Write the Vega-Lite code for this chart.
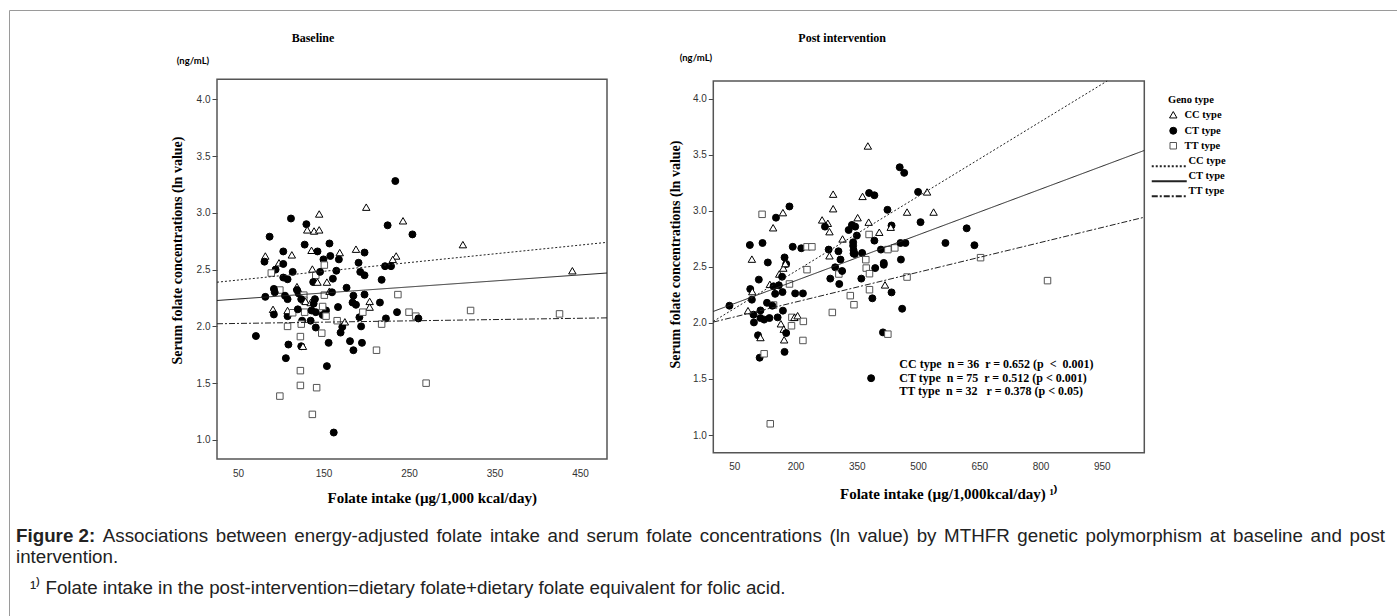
{
  "$schema": "https://vega.github.io/schema/vega-lite/v6.json",
  "width": 1397,
  "height": 616,
  "autosize": {"type": "none"},
  "padding": 0,
  "background": "white",
  "config": {
    "view": {"stroke": null},
    "axis": {"grid": false, "domain": false, "labelFont": "Liberation Sans", "labelFontSize": 10, "labelColor": "#333", "titleFont": "Liberation Serif", "titleFontWeight": "bold", "titleColor": "black", "tickColor": "#444"},
    "legend": {"padding": 0},
    "text": {"font": "Liberation Sans", "fontSize": 18.75, "align": "left", "baseline": "middle", "color": "#222222"}
  },
  "datasets": {
    "base": [
      {"x":234,"y":3.28,"g":"CT type"},{"x":200,"y":3.05,"g":"CC type"},{"x":145,"y":2.99,"g":"CC type"},{"x":112,"y":2.95,"g":"CT type"},
      {"x":243,"y":2.93,"g":"CC type"},{"x":130,"y":2.9,"g":"CT type"},{"x":131,"y":2.85,"g":"CC type"},{"x":139,"y":2.84,"g":"CC type"},
      {"x":145,"y":2.85,"g":"CC type"},{"x":225,"y":2.89,"g":"CT type"},{"x":254,"y":2.81,"g":"CT type"},{"x":87,"y":2.79,"g":"CT type"},
      {"x":128,"y":2.72,"g":"CT type"},{"x":157,"y":2.73,"g":"CT type"},{"x":103,"y":2.66,"g":"CT type"},{"x":113,"y":2.63,"g":"CC type"},
      {"x":136,"y":2.67,"g":"CC type"},{"x":143,"y":2.66,"g":"CT type"},{"x":158,"y":2.62,"g":"CT type"},{"x":169,"y":2.65,"g":"CC type"},
      {"x":150,"y":2.59,"g":"CT type"},{"x":168,"y":2.59,"g":"CT type"},{"x":188,"y":2.68,"g":"CC type"},{"x":198,"y":2.65,"g":"CT type"},
      {"x":191,"y":2.56,"g":"CT type"},{"x":82,"y":2.62,"g":"CC type"},{"x":81,"y":2.57,"g":"CT type"},{"x":98,"y":2.56,"g":"CC type"},
      {"x":103,"y":2.55,"g":"CT type"},{"x":235,"y":2.62,"g":"CC type"},{"x":231,"y":2.59,"g":"CC type"},{"x":222,"y":2.53,"g":"CT type"},
      {"x":229,"y":2.53,"g":"CT type"},{"x":94,"y":2.5,"g":"CT type"},{"x":89,"y":2.47,"g":"TT type"},{"x":103,"y":2.43,"g":"CT type"},
      {"x":108,"y":2.415,"g":"CT type"},{"x":114,"y":2.48,"g":"CT type"},{"x":137,"y":2.505,"g":"CC type"},{"x":141,"y":2.45,"g":"TT type"},
      {"x":151,"y":2.54,"g":"TT type"},{"x":146,"y":2.48,"g":"CT type"},{"x":138,"y":2.39,"g":"CT type"},{"x":143,"y":2.39,"g":"CC type"},
      {"x":154,"y":2.39,"g":"CC type"},{"x":161,"y":2.42,"g":"CT type"},{"x":165,"y":2.49,"g":"CT type"},{"x":193,"y":2.48,"g":"CT type"},
      {"x":198,"y":2.45,"g":"CT type"},{"x":218,"y":2.41,"g":"CT type"},{"x":82,"y":2.26,"g":"CT type"},{"x":99,"y":2.32,"g":"TT type"},
      {"x":92,"y":2.33,"g":"CT type"},{"x":93,"y":2.3,"g":"CT type"},{"x":105,"y":2.27,"g":"CT type"},{"x":108,"y":2.24,"g":"CT type"},
      {"x":119,"y":2.35,"g":"CC type"},{"x":119,"y":2.32,"g":"CT type"},{"x":121,"y":2.29,"g":"CT type"},{"x":127,"y":2.275,"g":"TT type"},
      {"x":127,"y":2.23,"g":"TT type"},{"x":124,"y":2.24,"g":"CT type"},{"x":129,"y":2.22,"g":"CC type"},{"x":135,"y":2.21,"g":"CC type"},
      {"x":138.5,"y":2.2,"g":"CT type"},{"x":140,"y":2.24,"g":"CT type"},{"x":151,"y":2.275,"g":"TT type"},{"x":157,"y":2.31,"g":"CC type"},
      {"x":160,"y":2.3,"g":"CT type"},{"x":177,"y":2.34,"g":"CT type"},{"x":185,"y":2.27,"g":"CT type"},{"x":198,"y":2.28,"g":"CT type"},
      {"x":184,"y":2.21,"g":"CT type"},{"x":188,"y":2.19,"g":"CT type"},{"x":237,"y":2.28,"g":"TT type"},{"x":204,"y":2.22,"g":"CC type"},
      {"x":216,"y":2.21,"g":"CT type"},{"x":204,"y":2.17,"g":"CC type"},{"x":91,"y":2.15,"g":"CC type"},{"x":92,"y":2.105,"g":"CT type"},
      {"x":108,"y":2.09,"g":"CT type"},{"x":108,"y":2.14,"g":"CC type"},{"x":114,"y":2.12,"g":"TT type"},{"x":128,"y":2.125,"g":"TT type"},
      {"x":120,"y":2.15,"g":"CT type"},{"x":136,"y":2.14,"g":"CT type"},{"x":141,"y":2.125,"g":"CT type"},{"x":153,"y":2.14,"g":"CT type"},
      {"x":149,"y":2.175,"g":"TT type"},{"x":167,"y":2.17,"g":"CT type"},{"x":149,"y":2.1,"g":"CT type"},{"x":153,"y":2.09,"g":"TT type"},
      {"x":135,"y":2.05,"g":"CT type"},{"x":125,"y":2.05,"g":"CT type"},{"x":124,"y":2.02,"g":"TT type"},{"x":108,"y":2.0,"g":"TT type"},
      {"x":141,"y":1.99,"g":"CT type"},{"x":172,"y":1.995,"g":"CT type"},{"x":166,"y":2.05,"g":"TT type"},{"x":175,"y":2.04,"g":"CC type"},
      {"x":192,"y":2.08,"g":"CT type"},{"x":194,"y":2.0,"g":"CT type"},{"x":170,"y":1.945,"g":"CT type"},{"x":196,"y":2.125,"g":"TT type"},
      {"x":223,"y":2.07,"g":"CT type"},{"x":218,"y":2.02,"g":"TT type"},{"x":236,"y":2.125,"g":"CT type"},{"x":250,"y":2.125,"g":"TT type"},
      {"x":258,"y":2.09,"g":"TT type"},{"x":261,"y":2.07,"g":"CT type"},{"x":71,"y":1.915,"g":"CT type"},{"x":123,"y":1.91,"g":"TT type"},
      {"x":109,"y":1.84,"g":"CT type"},{"x":124,"y":1.825,"g":"CT type"},{"x":126,"y":1.825,"g":"CC type"},{"x":156,"y":1.855,"g":"CT type"},
      {"x":181,"y":1.87,"g":"CT type"},{"x":185,"y":1.79,"g":"CT type"},{"x":195,"y":1.855,"g":"CT type"},{"x":148,"y":1.94,"g":"TT type"},
      {"x":212,"y":1.79,"g":"TT type"},{"x":106,"y":1.72,"g":"CT type"},{"x":154,"y":1.65,"g":"CT type"},{"x":123,"y":1.61,"g":"TT type"},
      {"x":99,"y":1.386,"g":"TT type"},{"x":123,"y":1.48,"g":"TT type"},{"x":142,"y":1.46,"g":"TT type"},{"x":137,"y":1.225,"g":"TT type"},
      {"x":162,"y":1.065,"g":"CT type"},{"x":270,"y":1.5,"g":"TT type"},{"x":313,"y":2.72,"g":"CC type"},{"x":322,"y":2.14,"g":"TT type"},
      {"x":426,"y":2.11,"g":"TT type"},{"x":441,"y":2.49,"g":"CC type"}
    ],
    "post": [
      {"x":377,"y":3.58,"g":"CC type"},{"x":455,"y":3.39,"g":"CT type"},{"x":466,"y":3.34,"g":"CT type"},{"x":380,"y":3.16,"g":"CT type"},
      {"x":393,"y":3.14,"g":"CT type"},{"x":292,"y":3.15,"g":"CC type"},{"x":364,"y":3.13,"g":"CC type"},{"x":500,"y":3.17,"g":"CT type"},
      {"x":522,"y":3.17,"g":"CC type"},{"x":118,"y":2.97,"g":"TT type"},{"x":152,"y":2.94,"g":"CT type"},{"x":169,"y":2.985,"g":"CC type"},
      {"x":185,"y":3.04,"g":"CT type"},{"x":145,"y":2.85,"g":"CC type"},{"x":292,"y":3.02,"g":"CC type"},{"x":265,"y":2.92,"g":"CC type"},
      {"x":279,"y":2.89,"g":"CC type"},{"x":272,"y":2.86,"g":"CT type"},{"x":283,"y":2.815,"g":"CC type"},{"x":352,"y":2.94,"g":"CC type"},
      {"x":379,"y":2.9,"g":"CC type"},{"x":425,"y":3.01,"g":"CT type"},{"x":506,"y":2.9,"g":"CT type"},{"x":473,"y":2.99,"g":"CC type"},
      {"x":538,"y":2.99,"g":"CC type"},{"x":330,"y":2.83,"g":"CT type"},{"x":338,"y":2.875,"g":"CT type"},{"x":346,"y":2.86,"g":"CT type"},
      {"x":350,"y":2.78,"g":"CT type"},{"x":380,"y":2.79,"g":"TT type"},{"x":405,"y":2.81,"g":"CC type"},{"x":435,"y":2.87,"g":"CT type"},
      {"x":433,"y":2.855,"g":"CC type"},{"x":315,"y":2.75,"g":"CC type"},{"x":341,"y":2.72,"g":"CT type"},{"x":393,"y":2.735,"g":"CT type"},
      {"x":341,"y":2.69,"g":"CT type"},{"x":342,"y":2.65,"g":"CT type"},{"x":363,"y":2.625,"g":"CT type"},{"x":342,"y":2.62,"g":"CT type"},
      {"x":281,"y":2.655,"g":"CT type"},{"x":305,"y":2.64,"g":"CT type"},{"x":214,"y":2.667,"g":"CT type"},{"x":228,"y":2.68,"g":"TT type"},
      {"x":240,"y":2.68,"g":"TT type"},{"x":193,"y":2.68,"g":"CT type"},{"x":88,"y":2.696,"g":"CT type"},{"x":119,"y":2.714,"g":"CT type"},
      {"x":409,"y":2.655,"g":"CT type"},{"x":426,"y":2.655,"g":"TT type"},{"x":443,"y":2.67,"g":"TT type"},{"x":457,"y":2.714,"g":"CT type"},
      {"x":469,"y":2.714,"g":"CT type"},{"x":567,"y":2.714,"g":"CT type"},{"x":93,"y":2.57,"g":"CC type"},{"x":132,"y":2.54,"g":"CT type"},
      {"x":173,"y":2.585,"g":"CT type"},{"x":177,"y":2.527,"g":"CT type"},{"x":283,"y":2.6,"g":"CC type"},{"x":372,"y":2.565,"g":"TT type"},
      {"x":416,"y":2.536,"g":"CT type"},{"x":89,"y":2.303,"g":"CT type"},{"x":110,"y":2.387,"g":"CT type"},{"x":93,"y":2.208,"g":"CT type"},
      {"x":97,"y":2.074,"g":"CT type"},{"x":98,"y":2.005,"g":"CT type"},{"x":114,"y":2.112,"g":"CT type"},{"x":114,"y":2.044,"g":"CT type"},
      {"x":108,"y":1.89,"g":"CT type"},{"x":114,"y":1.87,"g":"CC type"},{"x":112,"y":1.69,"g":"CT type"},{"x":123,"y":1.725,"g":"TT type"},
      {"x":123,"y":2.03,"g":"CT type"},{"x":130,"y":2.18,"g":"CT type"},{"x":94,"y":2.28,"g":"CC type"},{"x":83.5,"y":2.11,"g":"CC type"},
      {"x":136,"y":2.044,"g":"CT type"},{"x":138,"y":1.1,"g":"TT type"},{"x":137,"y":2.345,"g":"CC type"},{"x":146,"y":2.327,"g":"CT type"},
      {"x":150,"y":2.26,"g":"CT type"},{"x":146,"y":2.16,"g":"TT type"},{"x":143,"y":2.154,"g":"CT type"},{"x":160,"y":2.437,"g":"CC type"},
      {"x":167,"y":2.413,"g":"CT type"},{"x":159,"y":2.336,"g":"CT type"},{"x":168,"y":2.276,"g":"CT type"},{"x":156,"y":2.05,"g":"CT type"},
      {"x":164,"y":1.993,"g":"CC type"},{"x":171,"y":1.945,"g":"CC type"},{"x":172,"y":1.85,"g":"CC type"},{"x":169,"y":2.11,"g":"CT type"},
      {"x":173,"y":1.742,"g":"CT type"},{"x":177,"y":1.91,"g":"CT type"},{"x":170,"y":2.49,"g":"CC type"},{"x":175,"y":2.53,"g":"CC type"},
      {"x":185,"y":2.348,"g":"TT type"},{"x":191,"y":2.05,"g":"TT type"},{"x":190,"y":1.975,"g":"TT type"},{"x":197,"y":2.05,"g":"CC type"},
      {"x":205,"y":2.065,"g":"CC type"},{"x":199,"y":2.264,"g":"CT type"},{"x":218,"y":2.264,"g":"CT type"},{"x":219,"y":2.014,"g":"TT type"},
      {"x":218,"y":1.844,"g":"TT type"},{"x":228,"y":2.476,"g":"TT type"},{"x":285,"y":2.396,"g":"CT type"},{"x":297,"y":2.497,"g":"CT type"},
      {"x":307,"y":2.348,"g":"CT type"},{"x":306,"y":2.437,"g":"TT type"},{"x":314,"y":2.464,"g":"CT type"},{"x":310,"y":2.566,"g":"CT type"},
      {"x":290,"y":2.094,"g":"TT type"},{"x":334,"y":2.244,"g":"TT type"},{"x":343,"y":2.163,"g":"TT type"},{"x":345,"y":2.616,"g":"CT type"},
      {"x":361,"y":2.396,"g":"CT type"},{"x":373,"y":2.49,"g":"TT type"},{"x":381,"y":2.297,"g":"TT type"},{"x":381,"y":2.44,"g":"TT type"},
      {"x":395,"y":2.49,"g":"CT type"},{"x":388,"y":2.22,"g":"CT type"},{"x":416,"y":2.52,"g":"CT type"},{"x":414,"y":1.916,"g":"CT type"},
      {"x":426,"y":1.9,"g":"TT type"},{"x":419,"y":2.34,"g":"CC type"},{"x":435,"y":2.273,"g":"CT type"},{"x":473,"y":2.41,"g":"TT type"},
      {"x":458,"y":2.566,"g":"CT type"},{"x":461,"y":2.127,"g":"CT type"},{"x":385,"y":1.507,"g":"CT type"},{"x":38,"y":2.154,"g":"CT type"},
      {"x":619,"y":2.845,"g":"CT type"},{"x":638,"y":2.694,"g":"CT type"},{"x":653,"y":2.583,"g":"TT type"},{"x":817,"y":2.378,"g":"TT type"}
    ],
    "baseFit": [
      {"fit":"CC","x":25.5,"y":2.389},{"fit":"CC","x":481.5,"y":2.74},
      {"fit":"CT","x":25.5,"y":2.228},{"fit":"CT","x":481.5,"y":2.47},
      {"fit":"TT","x":25.5,"y":2.023},{"fit":"TT","x":481.5,"y":2.075}
    ],
    "postFit": [
      {"fit":"CC","x":-1.5,"y":2.014},{"fit":"CC","x":963,"y":4.16},
      {"fit":"CT","x":-1.5,"y":2.103},{"fit":"CT","x":1054,"y":3.54},
      {"fit":"TT","x":-1.5,"y":2.008},{"fit":"TT","x":1054,"y":2.944}
    ]
  },
  "layer": [
    {
      "data": {"values": [{}]},
      "mark": {"type": "rect", "filled": false, "stroke": "#9a9a9a", "strokeWidth": 1},
      "encoding": {
        "x": {"datum": 0, "type": "quantitative", "scale": {"domain": [0, 1], "range": [9.5, 3000], "nice": false, "zero": false}, "axis": null},
        "x2": {"datum": 1},
        "y": {"datum": 0, "type": "quantitative", "scale": {"domain": [0, 1], "range": [10.5, 3000], "nice": false, "zero": false}, "axis": null},
        "y2": {"datum": 1}
      }
    },
    {
      "data": {"values": [{}]},
      "mark": {"type": "rect", "filled": false, "stroke": "#555555", "strokeWidth": 1.5},
      "encoding": {
        "x": {"datum": 25.5, "type": "quantitative", "scale": {"domain": [25.5, 481.5], "range": [217, 607], "nice": false, "zero": false}, "axis": null},
        "x2": {"datum": 481.5},
        "y": {"datum": 0.832, "type": "quantitative", "scale": {"domain": [0.832, 4.176], "range": [459, 79.3], "nice": false, "zero": false}, "axis": null},
        "y2": {"datum": 4.176}
      }
    },
    {
      "data": {"values": [{}]},
      "mark": {"type": "rect", "filled": false, "stroke": "#555555", "strokeWidth": 1.5},
      "encoding": {
        "x": {"datum": -1.5, "type": "quantitative", "scale": {"domain": [-1.5, 1054], "range": [713.3, 1144.3], "nice": false, "zero": false}, "axis": null},
        "x2": {"datum": 1054},
        "y": {"datum": 0.842, "type": "quantitative", "scale": {"domain": [0.842, 4.16], "range": [452.7, 81], "nice": false, "zero": false}, "axis": null},
        "y2": {"datum": 4.16}
      }
    },
    {
      "data": {"name": "base"},
      "mark": {"type": "point", "filled": true, "opacity": 1, "strokeWidth": 1},
      "encoding": {
        "x": {"field": "x", "type": "quantitative", "scale": {"domain": [25.5, 481.5], "range": [217, 607], "nice": false, "zero": false},
          "axis": {"orient": "bottom", "offset": -157, "values": [50, 150, 250, 350, 450], "ticks": false, "labelPadding": 9, "title": "Folate intake (µg/1,000 kcal/day)", "titleFontSize": 15, "titleX": 431.7, "titleY": 38, "titleBaseline": "middle", "titleAlign": "center", "titleAngle": 0}},
        "y": {"field": "y", "type": "quantitative", "scale": {"domain": [0.832, 4.176], "range": [459, 79.3], "nice": false, "zero": false},
          "axis": {"orient": "left", "offset": -217, "values": [1, 1.5, 2, 2.5, 3, 3.5, 4], "format": ".1f", "tickSize": 5, "labelPadding": 2, "title": "Serum folate concentrations (ln value)", "titleFontSize": 14, "titleX": -39.5, "titleY": 250, "titleBaseline": "middle", "titleAlign": "center", "titleAngle": -90}},
        "shape": {"field": "g", "type": "nominal", "scale": {"domain": ["CC type", "CT type", "TT type"], "range": ["triangle-up", "circle", "square"]},
          "legend": {"orient": "none", "legendX": 1168, "legendY": 95, "title": "\u00a0\u00a0\u00a0Geno type", "titleFont": "Liberation Serif", "titleFontWeight": "bold", "titleFontSize": 10.5, "titleColor": "black", "titlePadding": 4, "labelFont": "Liberation Serif", "labelFontWeight": "bold", "labelFontSize": 10.5, "labelColor": "black", "labelOffset": 6, "rowPadding": 4, "symbolStrokeWidth": 1}},
        "fill": {"field": "g", "type": "nominal", "scale": {"domain": ["CC type", "CT type", "TT type"], "range": ["white", "black", "white"]}, "legend": {"orient": "none", "legendX": 1168, "legendY": 95, "title": "\u00a0\u00a0\u00a0Geno type"}},
        "stroke": {"field": "g", "type": "nominal", "scale": {"domain": ["CC type", "CT type", "TT type"], "range": ["black", "black", "#555555"]}, "legend": {"orient": "none", "legendX": 1168, "legendY": 95, "title": "\u00a0\u00a0\u00a0Geno type"}},
        "size": {"field": "g", "type": "nominal", "scale": {"domain": ["CC type", "CT type", "TT type"], "range": [55, 42, 36]}, "legend": {"orient": "none", "legendX": 1168, "legendY": 95, "title": "\u00a0\u00a0\u00a0Geno type"}}
      }
    },
    {
      "data": {"name": "post"},
      "mark": {"type": "point", "filled": true, "opacity": 1, "strokeWidth": 1},
      "encoding": {
        "x": {"field": "x", "type": "quantitative", "scale": {"domain": [-1.5, 1054], "range": [713.3, 1144.3], "nice": false, "zero": false},
          "axis": {"orient": "bottom", "offset": -163.3, "values": [50, 200, 350, 500, 650, 800, 950], "ticks": false, "labelPadding": 9, "title": "Folate intake (µg/1,000kcal/day) ¹⁾", "titleFontSize": 15, "titleX": 948, "titleY": 40.6, "titleBaseline": "middle", "titleAlign": "center", "titleAngle": 0}},
        "y": {"field": "y", "type": "quantitative", "scale": {"domain": [0.842, 4.16], "range": [452.7, 81], "nice": false, "zero": false},
          "axis": {"orient": "left", "offset": -713.3, "values": [1, 1.5, 2, 2.5, 3, 3.5, 4], "format": ".1f", "tickSize": 5, "labelPadding": 2, "title": "Serum folate concentrations (ln value)", "titleFontSize": 14, "titleX": -38.3, "titleY": 254, "titleBaseline": "middle", "titleAlign": "center", "titleAngle": -90}},
        "shape": {"field": "g", "type": "nominal", "scale": {"domain": ["CC type", "CT type", "TT type"], "range": ["triangle-up", "circle", "square"]}, "legend": {"orient": "none", "legendX": 1168, "legendY": 95, "title": "\u00a0\u00a0\u00a0Geno type"}},
        "fill": {"field": "g", "type": "nominal", "scale": {"domain": ["CC type", "CT type", "TT type"], "range": ["white", "black", "white"]}, "legend": {"orient": "none", "legendX": 1168, "legendY": 95, "title": "\u00a0\u00a0\u00a0Geno type"}},
        "stroke": {"field": "g", "type": "nominal", "scale": {"domain": ["CC type", "CT type", "TT type"], "range": ["black", "black", "#555555"]}, "legend": {"orient": "none", "legendX": 1168, "legendY": 95, "title": "\u00a0\u00a0\u00a0Geno type"}},
        "size": {"field": "g", "type": "nominal", "scale": {"domain": ["CC type", "CT type", "TT type"], "range": [55, 42, 36]}, "legend": {"orient": "none", "legendX": 1168, "legendY": 95, "title": "\u00a0\u00a0\u00a0Geno type"}}
      }
    },
    {
      "data": {"name": "baseFit"},
      "mark": {"type": "line", "strokeWidth": 1},
      "encoding": {
        "x": {"field": "x", "type": "quantitative", "scale": {"domain": [25.5, 481.5], "range": [217, 607], "nice": false, "zero": false}, "axis": null},
        "y": {"field": "y", "type": "quantitative", "scale": {"domain": [0.832, 4.176], "range": [459, 79.3], "nice": false, "zero": false}, "axis": null},
        "strokeDash": {"field": "fit", "type": "nominal", "scale": {"domain": ["CC", "CT", "TT"], "range": [[2, 2], [1, 0], [6, 2, 2, 2]]}, "legend": null},
        "color": {"field": "fit", "type": "nominal", "scale": {"domain": ["CC", "CT", "TT"], "range": ["#222222", "#222222", "#222222"]},
          "legend": {"orient": "none", "legendX": 1178, "legendY": 161, "title": null, "labelExpr": "datum.label + ' type'", "symbolType": "M-9,0H1", "symbolSize": 49, "symbolStrokeWidth": 2, "symbolFillColor": "transparent", "labelFont": "Liberation Serif", "labelFontWeight": "bold", "labelFontSize": 10.5, "labelColor": "black", "labelOffset": 0, "rowPadding": 0,
            "encode": {"labels": {"update": {"dy": {"value": -5}}}}}}
      }
    },
    {
      "data": {"name": "postFit"},
      "mark": {"type": "line", "strokeWidth": 1},
      "encoding": {
        "x": {"field": "x", "type": "quantitative", "scale": {"domain": [-1.5, 1054], "range": [713.3, 1144.3], "nice": false, "zero": false}, "axis": null},
        "y": {"field": "y", "type": "quantitative", "scale": {"domain": [0.842, 4.16], "range": [452.7, 81], "nice": false, "zero": false}, "axis": null},
        "strokeDash": {"field": "fit", "type": "nominal", "scale": {"domain": ["CC", "CT", "TT"], "range": [[2, 2], [1, 0], [6, 2, 2, 2]]}, "legend": null},
        "color": {"field": "fit", "type": "nominal", "scale": {"domain": ["CC", "CT", "TT"], "range": ["#222222", "#222222", "#222222"]},
          "legend": {"orient": "none", "legendX": 1178, "legendY": 161, "title": null, "labelExpr": "datum.label + ' type'"}}
      }
    },
    {
      "data": {"values": [{}]},
      "mark": {"type": "text", "text": "Baseline", "font": "Liberation Serif", "fontWeight": "bold", "fontSize": 12, "align": "center", "color": "black"},
      "encoding": {
        "x": {"datum": 137.7, "type": "quantitative", "scale": {"domain": [25.5, 481.5], "range": [217, 607], "nice": false, "zero": false}, "axis": null},
        "y": {"datum": 4.54, "type": "quantitative", "scale": {"domain": [0.832, 4.176], "range": [459, 79.3], "nice": false, "zero": false}, "axis": null}
      }
    },
    {
      "data": {"values": [{}]},
      "mark": {"type": "text", "text": "(ng/mL)", "font": "Lato", "fontWeight": "bold", "fontSize": 9.5, "align": "center", "color": "black"},
      "encoding": {
        "x": {"datum": -2.6, "type": "quantitative", "scale": {"domain": [25.5, 481.5], "range": [217, 607], "nice": false, "zero": false}, "axis": null},
        "y": {"datum": 4.337, "type": "quantitative", "scale": {"domain": [0.832, 4.176], "range": [459, 79.3], "nice": false, "zero": false}, "axis": null}
      }
    },
    {
      "data": {"values": [{}]},
      "mark": {"type": "text", "text": "Post intervention", "font": "Liberation Serif", "fontWeight": "bold", "fontSize": 12, "align": "center", "color": "black"},
      "encoding": {
        "x": {"datum": 314, "type": "quantitative", "scale": {"domain": [-1.5, 1054], "range": [713.3, 1144.3], "nice": false, "zero": false}, "axis": null},
        "y": {"datum": 4.5437, "type": "quantitative", "scale": {"domain": [0.842, 4.16], "range": [452.7, 81], "nice": false, "zero": false}, "axis": null}
      }
    },
    {
      "data": {"values": [{}]},
      "mark": {"type": "text", "text": "(ng/mL)", "font": "Lato", "fontWeight": "bold", "fontSize": 9.5, "align": "center", "color": "black"},
      "encoding": {
        "x": {"datum": -44, "type": "quantitative", "scale": {"domain": [-1.5, 1054], "range": [713.3, 1144.3], "nice": false, "zero": false}, "axis": null},
        "y": {"datum": 4.365, "type": "quantitative", "scale": {"domain": [0.842, 4.16], "range": [452.7, 81], "nice": false, "zero": false}, "axis": null}
      }
    },
    {
      "data": {"values": [{}]},
      "mark": {"type": "text", "text": ["CC type\u00a0 n = 36\u00a0 r = 0.652 (p\u00a0 <\u00a0 0.001)", "CT type\u00a0 n = 75\u00a0 r = 0.512 (p < 0.001)", "TT type\u00a0 n = 32\u00a0\u00a0 r = 0.378 (p < 0.05)"], "font": "Liberation Serif", "fontWeight": "bold", "fontSize": 12, "lineHeight": 13.7, "baseline": "top", "color": "black"},
      "encoding": {
        "x": {"datum": 454, "type": "quantitative", "scale": {"domain": [-1.5, 1054], "range": [713.3, 1144.3], "nice": false, "zero": false}, "axis": null},
        "y": {"datum": 1.678, "type": "quantitative", "scale": {"domain": [0.842, 4.16], "range": [452.7, 81], "nice": false, "zero": false}, "axis": null}
      }
    },
    {"data": {"values": [{}]}, "mark": {"type": "text", "text": "Figure 2:", "fontWeight": "bold"},
      "encoding": {"x": {"datum": -209.5, "type": "quantitative", "scale": {"domain": [25.5, 481.5], "range": [217, 607], "nice": false, "zero": false}, "axis": null},
        "y": {"datum": 0.1539, "type": "quantitative", "scale": {"domain": [0.832, 4.176], "range": [459, 79.3], "nice": false, "zero": false}, "axis": null}}},
    {"data": {"values": [{}]}, "mark": {"type": "text", "text": "Associations"},
      "encoding": {"x": {"datum": -107.98, "type": "quantitative", "scale": {"domain": [25.5, 481.5], "range": [217, 607], "nice": false, "zero": false}, "axis": null},
        "y": {"datum": 0.1539, "type": "quantitative", "scale": {"domain": [0.832, 4.176], "range": [459, 79.3], "nice": false, "zero": false}, "axis": null}}},
    {"data": {"values": [{}]}, "mark": {"type": "text", "text": "between"},
      "encoding": {"x": {"datum": 24.03, "type": "quantitative", "scale": {"domain": [25.5, 481.5], "range": [217, 607], "nice": false, "zero": false}, "axis": null},
        "y": {"datum": 0.1539, "type": "quantitative", "scale": {"domain": [0.832, 4.176], "range": [459, 79.3], "nice": false, "zero": false}, "axis": null}}},
    {"data": {"values": [{}]}, "mark": {"type": "text", "text": "energy-adjusted"},
      "encoding": {"x": {"datum": 115.87, "type": "quantitative", "scale": {"domain": [25.5, 481.5], "range": [217, 607], "nice": false, "zero": false}, "axis": null},
        "y": {"datum": 0.1539, "type": "quantitative", "scale": {"domain": [0.832, 4.176], "range": [459, 79.3], "nice": false, "zero": false}, "axis": null}}},
    {"data": {"values": [{}]}, "mark": {"type": "text", "text": "folate"},
      "encoding": {"x": {"datum": 282.02, "type": "quantitative", "scale": {"domain": [25.5, 481.5], "range": [217, 607], "nice": false, "zero": false}, "axis": null},
        "y": {"datum": 0.1539, "type": "quantitative", "scale": {"domain": [0.832, 4.176], "range": [459, 79.3], "nice": false, "zero": false}, "axis": null}}},
    {"data": {"values": [{}]}, "mark": {"type": "text", "text": "intake"},
      "encoding": {"x": {"datum": 344.6, "type": "quantitative", "scale": {"domain": [25.5, 481.5], "range": [217, 607], "nice": false, "zero": false}, "axis": null},
        "y": {"datum": 0.1539, "type": "quantitative", "scale": {"domain": [0.832, 4.176], "range": [459, 79.3], "nice": false, "zero": false}, "axis": null}}},
    {"data": {"values": [{}]}, "mark": {"type": "text", "text": "and"},
      "encoding": {"x": {"datum": 412.06, "type": "quantitative", "scale": {"domain": [25.5, 481.5], "range": [217, 607], "nice": false, "zero": false}, "axis": null},
        "y": {"datum": 0.1539, "type": "quantitative", "scale": {"domain": [0.832, 4.176], "range": [459, 79.3], "nice": false, "zero": false}, "axis": null}}},
    {"data": {"values": [{}]}, "mark": {"type": "text", "text": "serum"},
      "encoding": {"x": {"datum": 457.59, "type": "quantitative", "scale": {"domain": [25.5, 481.5], "range": [217, 607], "nice": false, "zero": false}, "axis": null},
        "y": {"datum": 0.1539, "type": "quantitative", "scale": {"domain": [0.832, 4.176], "range": [459, 79.3], "nice": false, "zero": false}, "axis": null}}},
    {"data": {"values": [{}]}, "mark": {"type": "text", "text": "folate"},
      "encoding": {"x": {"datum": 527.45, "type": "quantitative", "scale": {"domain": [25.5, 481.5], "range": [217, 607], "nice": false, "zero": false}, "axis": null},
        "y": {"datum": 0.1539, "type": "quantitative", "scale": {"domain": [0.832, 4.176], "range": [459, 79.3], "nice": false, "zero": false}, "axis": null}}},
    {"data": {"values": [{}]}, "mark": {"type": "text", "text": "concentrations"},
      "encoding": {"x": {"datum": 590.03, "type": "quantitative", "scale": {"domain": [25.5, 481.5], "range": [217, 607], "nice": false, "zero": false}, "axis": null},
        "y": {"datum": 0.1539, "type": "quantitative", "scale": {"domain": [0.832, 4.176], "range": [459, 79.3], "nice": false, "zero": false}, "axis": null}}},
    {"data": {"values": [{}]}, "mark": {"type": "text", "text": "(ln"},
      "encoding": {"x": {"datum": 741.55, "type": "quantitative", "scale": {"domain": [25.5, 481.5], "range": [217, 607], "nice": false, "zero": false}, "axis": null},
        "y": {"datum": 0.1539, "type": "quantitative", "scale": {"domain": [0.832, 4.176], "range": [459, 79.3], "nice": false, "zero": false}, "axis": null}}},
    {"data": {"values": [{}]}, "mark": {"type": "text", "text": "value)"},
      "encoding": {"x": {"datum": 774.88, "type": "quantitative", "scale": {"domain": [25.5, 481.5], "range": [217, 607], "nice": false, "zero": false}, "axis": null},
        "y": {"datum": 0.1539, "type": "quantitative", "scale": {"domain": [0.832, 4.176], "range": [459, 79.3], "nice": false, "zero": false}, "axis": null}}},
    {"data": {"values": [{}]}, "mark": {"type": "text", "text": "by"},
      "encoding": {"x": {"datum": 843.53, "type": "quantitative", "scale": {"domain": [25.5, 481.5], "range": [217, 607], "nice": false, "zero": false}, "axis": null},
        "y": {"datum": 0.1539, "type": "quantitative", "scale": {"domain": [0.832, 4.176], "range": [459, 79.3], "nice": false, "zero": false}, "axis": null}}},
    {"data": {"values": [{}]}, "mark": {"type": "text", "text": "MTHFR"},
      "encoding": {"x": {"datum": 875.64, "type": "quantitative", "scale": {"domain": [25.5, 481.5], "range": [217, 607], "nice": false, "zero": false}, "axis": null},
        "y": {"datum": 0.1539, "type": "quantitative", "scale": {"domain": [0.832, 4.176], "range": [459, 79.3], "nice": false, "zero": false}, "axis": null}}},
    {"data": {"values": [{}]}, "mark": {"type": "text", "text": "genetic"},
      "encoding": {"x": {"datum": 961.31, "type": "quantitative", "scale": {"domain": [25.5, 481.5], "range": [217, 607], "nice": false, "zero": false}, "axis": null},
        "y": {"datum": 0.1539, "type": "quantitative", "scale": {"domain": [0.832, 4.176], "range": [459, 79.3], "nice": false, "zero": false}, "axis": null}}},
    {"data": {"values": [{}]}, "mark": {"type": "text", "text": "polymorphism"},
      "encoding": {"x": {"datum": 1040.95, "type": "quantitative", "scale": {"domain": [25.5, 481.5], "range": [217, 607], "nice": false, "zero": false}, "axis": null},
        "y": {"datum": 0.1539, "type": "quantitative", "scale": {"domain": [0.832, 4.176], "range": [459, 79.3], "nice": false, "zero": false}, "axis": null}}},
    {"data": {"values": [{}]}, "mark": {"type": "text", "text": "at"},
      "encoding": {"x": {"datum": 1186.33, "type": "quantitative", "scale": {"domain": [25.5, 481.5], "range": [217, 607], "nice": false, "zero": false}, "axis": null},
        "y": {"datum": 0.1539, "type": "quantitative", "scale": {"domain": [0.832, 4.176], "range": [459, 79.3], "nice": false, "zero": false}, "axis": null}}},
    {"data": {"values": [{}]}, "mark": {"type": "text", "text": "baseline"},
      "encoding": {"x": {"datum": 1213.57, "type": "quantitative", "scale": {"domain": [25.5, 481.5], "range": [217, 607], "nice": false, "zero": false}, "axis": null},
        "y": {"datum": 0.1539, "type": "quantitative", "scale": {"domain": [0.832, 4.176], "range": [459, 79.3], "nice": false, "zero": false}, "axis": null}}},
    {"data": {"values": [{}]}, "mark": {"type": "text", "text": "and"},
      "encoding": {"x": {"datum": 1304.18, "type": "quantitative", "scale": {"domain": [25.5, 481.5], "range": [217, 607], "nice": false, "zero": false}, "axis": null},
        "y": {"datum": 0.1539, "type": "quantitative", "scale": {"domain": [0.832, 4.176], "range": [459, 79.3], "nice": false, "zero": false}, "axis": null}}},
    {"data": {"values": [{}]}, "mark": {"type": "text", "text": "post"},
      "encoding": {"x": {"datum": 1349.71, "type": "quantitative", "scale": {"domain": [25.5, 481.5], "range": [217, 607], "nice": false, "zero": false}, "axis": null},
        "y": {"datum": 0.1539, "type": "quantitative", "scale": {"domain": [0.832, 4.176], "range": [459, 79.3], "nice": false, "zero": false}, "axis": null}}},
    {"data": {"values": [{}]}, "mark": {"type": "text", "text": "intervention."},
      "encoding": {"x": {"datum": -209.5, "type": "quantitative", "scale": {"domain": [25.5, 481.5], "range": [217, 607], "nice": false, "zero": false}, "axis": null},
        "y": {"datum": -0.0311, "type": "quantitative", "scale": {"domain": [0.832, 4.176], "range": [459, 79.3], "nice": false, "zero": false}, "axis": null}}},
    {"data": {"values": [{}]}, "mark": {"type": "text", "text": "¹⁾ Folate intake in the post-intervention=dietary folate+dietary folate equivalent for folic acid."},
      "encoding": {"x": {"datum": -193.1, "type": "quantitative", "scale": {"domain": [25.5, 481.5], "range": [217, 607], "nice": false, "zero": false}, "axis": null},
        "y": {"datum": -0.3041, "type": "quantitative", "scale": {"domain": [0.832, 4.176], "range": [459, 79.3], "nice": false, "zero": false}, "axis": null}}}
  ],
  "resolve": {"scale": {"x": "independent", "y": "independent"}}
}
